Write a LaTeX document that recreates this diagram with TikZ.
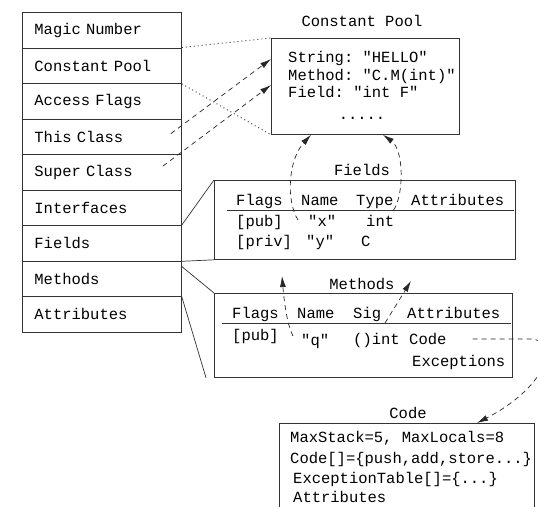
\documentclass[tikz,border=0pt]{standalone}
\usepackage{fontspec}
\setmonofont{Liberation Mono}
\usepackage{tikz}
\usetikzlibrary{arrows.meta,positioning,calc}

\tikzset{
  cell/.style={draw=black!80, line width=0.8pt, minimum width=159pt, minimum height=35.5pt,
    text width=135pt, inner xsep=12pt, inner ysep=0pt, align=left, anchor=north west},
  panel/.style={draw=black!80, line width=0.8pt, inner sep=0pt, anchor=north west},
  txt/.style={inner sep=0pt, anchor=base west},
  ttl/.style={inner sep=0pt, anchor=base},
  zoomline/.style={black!80, line width=0.7pt},
  poolline/.style={black!80, line width=0.9pt, dash pattern=on 1pt off 3pt},
  ptr/.style={black!85, line width=0.7pt, dash pattern=on 5pt off 4pt, -{Latex[length=11pt,width=6pt]}}
}

\begin{document}
\begin{tikzpicture}[x=1pt,y=-1pt,font=\ttfamily\fontsize{15.5}{18}\selectfont]
\useasboundingbox (0,0) rectangle (538,506);
\clip (0,0) rectangle (538,506);

\foreach \lbl [count=\i] in {Magic Number,Constant Pool,Access Flags,This Class,Super Class,Interfaces,Fields,Methods,Attributes}{
  \node[cell] (row\i) at (22,{12+35.5*(\i-1)}) {\lbl};
}

\node[panel, minimum width=188pt, minimum height=96pt] (pool) at (271,38) {};
\node[ttl] (pooltitle) at (362,27) {Constant Pool};
\node[txt] (pstr) at (288,62) {String: "HELLO"};
\node[txt] (pmeth) at (288,80) {Method: "C.M(int)"};
\node[txt] (pfield) at (288,97) {Field: "int F"};
\node[ttl] (pdots) at (362,119) {.....};

\node[panel, minimum width=301pt, minimum height=79pt] (fieldsbox) at (214,180) {};
\node[ttl] (fieldstitle) at (362,175) {Fields};
\node[txt] (fflags) at (236,205) {Flags};
\node[txt] (fname) at (301,205) {Name};
\node[txt] (ftype) at (356,205) {Type};
\node[txt] (fattr) at (411,205) {Attributes};
\draw[zoomline] (227,210) -- (514,210);
\node[txt] (fpub) at (236,226) {[pub]};
\node[txt] (fx) at (308,226) {"x"};
\node[txt] (fint) at (366,226) {int};
\node[txt] (fpriv) at (236,246) {[priv]};
\node[txt] (fy) at (306,246) {"y"};
\node[txt] (fc) at (361,246) {C};

\node[panel, minimum width=298pt, minimum height=84pt] (methbox) at (214,293) {};
\node[ttl] (methtitle) at (362,289) {Methods};
\node[txt] (mflags) at (232,318) {Flags};
\node[txt] (mname) at (297,318) {Name};
\node[txt] (msig) at (353,318) {Sig};
\node[txt] (mattr) at (407,318) {Attributes};
\draw[zoomline] (222,323) -- (511,323);
\node[txt] (mpub) at (232,340) {[pub]};
\node[txt] (mq) at (301,345) {"q"};
\node[txt] (msigval) at (353,344) {()int};
\node[txt] (mcode) at (409,344) {Code};
\node[txt] (mexc) at (412,366) {Exceptions};

\node[panel, minimum width=255pt, minimum height=110pt] (codebox) at (279,423) {};
\node[ttl] (codetitle) at (408,418) {Code};
\node[txt] (cstack) at (290,442) {MaxStack=5, MaxLocals=8};
\node[txt] (carr) at (290,463) {Code[]=\{push,add,store...\}};
\node[txt] (cexc) at (293,483) {ExceptionTable[]=\{...\}};
\node[txt] (cattr) at (293,502) {Attributes};

\coordinate (mqtip) at (282,276);
\coordinate (msigtip) at (411,281);

\draw[poolline] (row2.north east) -- (pool.north west);
\draw[poolline] (row2.south east) -- (pool.south west);
\draw[ptr] ($(row4.east)+(-11,-3)$) -- ($(pool.north west)+(0,21)$);
\draw[ptr] ($(row5.east)+(-19,-6)$) -- ($(pool.north west)+(0,47)$);

\draw[zoomline] (row7.north east) -- (fieldsbox.north west);
\draw[zoomline] (row7.south east) -- (fieldsbox.south west);
\draw[zoomline] ($(row8.north east)+(0,6)$) -- (methbox.north west);
\draw[zoomline] (row8.south east) -- ($(methbox.south west)+(-8,0)$);

\draw[ptr] ($(fx.base west)+(-10,-6)$) .. controls (286,201) and (288,160) .. ($(pool.south west)+(40,0)$);
\draw[ptr] ($(ftype.base east)+(0,5)$) .. controls (404,195) and (404,150) .. ($(pool.south west)+(112,0)$);
\draw[ptr] ($(mq.base west)+(-8,-9)$) .. controls (287,325) and (284,300) .. (mqtip);
\draw[ptr] ($(msigval.base west)+(32,-21)$) -- (msigtip);
\draw[ptr] ($(mcode.base east)+(26,-5)$) -- (530,339) .. controls (560,339) and (550,385) .. ($(codebox.north west)+(198,0)$);
\end{tikzpicture}
\end{document}
